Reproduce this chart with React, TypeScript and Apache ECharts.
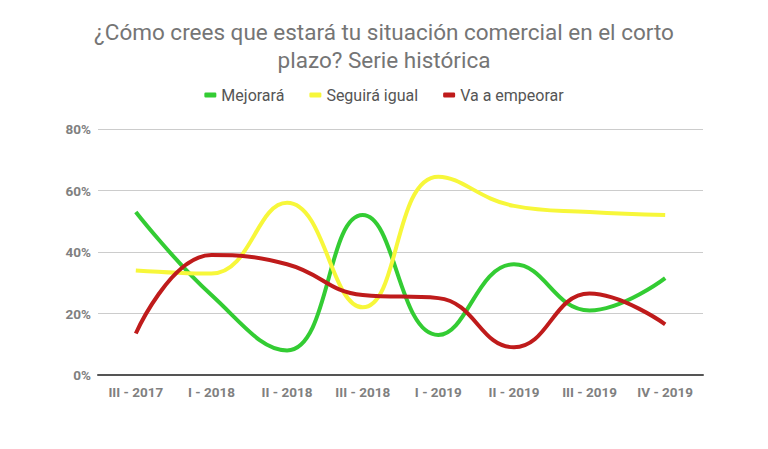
import React, { useEffect, useRef } from "react";
import * as echarts from "echarts";

const categories = ["III - 2017", "I - 2018", "II - 2018", "III - 2018", "I - 2019", "II - 2019", "III - 2019", "IV - 2019"];
const mejorara = [53, 26, 8, 52, 13, 36, 21, 31.5];
const seguiraIgual = [34, 33, 56, 22, 64.5, 55, 53, 52];
const vaAEmpeorar = [13.5, 39, 36, 26, 25, 9, 26.5, 16.5];
const yTicks = [0, 20, 40, 60, 80];

export default function App() {
  const ref = useRef<HTMLDivElement>(null);
  useEffect(() => {
    if (!ref.current) return;
    const chart = echarts.init(ref.current, undefined, { renderer: "svg" });
    const mk = (name: string, data: number[], color: string) => ({
      name,
      type: "line",
      data,
      smooth: 0.45,
      showSymbol: false,
      symbol: "none",
      lineStyle: { color, width: 4 },
      itemStyle: { color },
    });
    chart.setOption({
      animation: false,
      backgroundColor: "#ffffff",
      textStyle: { fontFamily: "Roboto" },
      title: {
        text: "¿Cómo crees que estará tu situación comercial en el corto\nplazo? Serie histórica",
        left: "center",
        top: 5,
        textStyle: { fontSize: 22.5, fontWeight: "normal", color: "#757575", lineHeight: 28, fontFamily: "Roboto" },
      },
      legend: {
        top: 74,
        left: "center",
        icon: "roundRect",
        itemWidth: 12,
        itemHeight: 5,
        itemGap: 25,
        textStyle: { fontSize: 16, color: "#555555", fontFamily: "Roboto" },
        data: ["Mejorará", "Seguirá igual", "Va a empeorar"],
      },
      grid: { left: 90, right: 57, top: 121, bottom: 66 },
      xAxis: {
        type: "category",
        data: categories,
        boundaryGap: true,
        axisLine: { show: true, lineStyle: { color: "#555555", width: 2 } },
        axisTick: { show: false },
        axisLabel: { color: "#808080", fontSize: 13.5, fontWeight: "bold", margin: 10 },
      },
      yAxis: {
        type: "value",
        min: yTicks[0],
        max: yTicks[yTicks.length - 1],
        interval: 20,
        axisLine: { show: false },
        axisTick: { show: false },
        axisLabel: { color: "#808080", fontSize: 13.5, fontWeight: "bold", formatter: "{value}%", margin: 7 },
        splitLine: { lineStyle: { color: "#cccccc", width: 1 } },
      },
      series: [
        mk("Mejorará", mejorara, "#33cc33"),
        mk("Seguirá igual", seguiraIgual, "#f7f73a"),
        mk("Va a empeorar", vaAEmpeorar, "#bf1b1b"),
      ],
    });
    return () => chart.dispose();
  }, []);
  return <div ref={ref} style={{ width: 752, height: 433 }} />;
}
